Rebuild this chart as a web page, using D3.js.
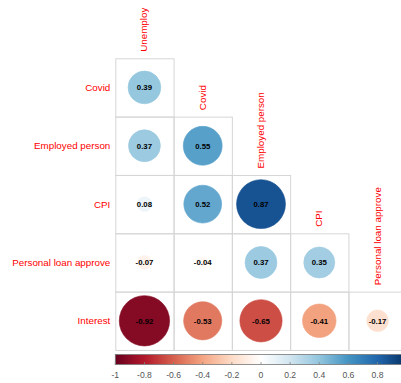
<!DOCTYPE html>
<html>
<head>
<meta charset="utf-8">
<script src="https://cdn.jsdelivr.net/npm/d3@7"></script>
<style>
  html, body { margin: 0; padding: 0; background: #fff; }
  svg { display: block; font-family: "Liberation Sans", Arial, sans-serif; }
</style>
</head>
<body>
<svg id="chart" width="401" height="383"></svg>
<script>
// Variables shown on each axis of the lower-triangle correlation matrix
const rowLabels = ["Covid", "Employed person", "CPI", "Personal loan approve", "Interest"];
const colLabels = ["Unemploy", "Covid", "Employed person", "CPI", "Personal loan approve"];

// Correlation coefficients, one row per row label (lower triangle)
const corrRows = [
  [0.39],
  [0.37, 0.55],
  [0.08, 0.52, 0.87],
  [-0.07, -0.04, 0.37, 0.35],
  [-0.92, -0.53, -0.65, -0.41, -0.17]
];

// Colour legend ticks
const legendTicks = [-1, -0.8, -0.6, -0.4, -0.2, 0, 0.2, 0.4, 0.6, 0.8];

// Diverging red–blue palette
const paletteStops = ["#67001F", "#B2182B", "#D6604D", "#F4A582", "#FDDBC7",
                      "#FFFFFF", "#D1E5F0", "#92C5DE", "#4393C3", "#2166AC", "#053061"];

const svg = d3.select("#chart");
const gridLeft = 115.3, gridRight = 406.7, gridTop = 58.3, gridBottom = 350;

const x = d3.scaleBand().domain(colLabels).range([gridLeft, gridRight]);
const y = d3.scaleBand().domain(rowLabels).range([gridTop, gridBottom]);
const color = d3.scaleLinear()
  .domain(d3.range(paletteStops.length).map(i => -1 + 2 * i / (paletteStops.length - 1)))
  .range(paletteStops)
  .interpolate(d3.interpolateRgb);
const cell = x.bandwidth();
const radius = v => Math.sqrt(Math.abs(v)) * cell * 0.45;

const cells = [];
corrRows.forEach((row, i) => row.forEach((v, j) => {
  cells.push({ row: rowLabels[i], col: colLabels[j], value: v });
}));

// Cell grid
svg.append("g").selectAll("rect").data(cells).join("rect")
  .attr("x", d => x(d.col) + 0.5)
  .attr("y", d => y(d.row) + 0.5)
  .attr("width", cell)
  .attr("height", cell)
  .attr("fill", "none")
  .attr("stroke", "#d6d6d6")
  .attr("stroke-width", 1);

// Circles: area grows with |r|, colour follows the palette
svg.append("g").selectAll("circle").data(cells).join("circle")
  .attr("cx", d => x(d.col) + cell / 2)
  .attr("cy", d => y(d.row) + cell / 2)
  .attr("r", d => radius(d.value))
  .attr("fill", d => color(d.value))
  .attr("stroke", d => color(d.value))
  .attr("stroke-width", 0.6);

// Coefficient labels (plain hyphen for negatives)
svg.append("g").selectAll("text").data(cells).join("text")
  .attr("x", d => x(d.col) + cell / 2)
  .attr("y", d => y(d.row) + cell / 2)
  .attr("dy", "0.35em")
  .attr("text-anchor", "middle")
  .attr("font-size", "7.8px")
  .attr("font-weight", "bold")
  .attr("fill", "#000")
  .text(d => d.value.toFixed(2));

// Row labels
svg.append("g").selectAll("text").data(rowLabels).join("text")
  .attr("x", gridLeft - 5)
  .attr("y", d => y(d) + cell / 2)
  .attr("dy", "0.35em")
  .attr("text-anchor", "end")
  .attr("font-size", "9.8px")
  .attr("fill", "#FF0000")
  .text(d => d);

// Column labels, rotated, sitting above each column's first cell
svg.append("g").selectAll("text").data(colLabels).join("text")
  .attr("transform", (d, j) => `translate(${x(d) + cell / 2 + 3},${y(rowLabels[j]) - 6.5}) rotate(-90)`)
  .attr("text-anchor", "start")
  .attr("font-size", "9.8px")
  .attr("fill", "#FF0000")
  .text(d => d);

// Colour legend
const lx = d3.scaleLinear().domain([-1, 1]).range([gridLeft, gridRight]);
const barTop = 354.5, barH = 10;
const defs = svg.append("defs");
const grad = defs.append("linearGradient").attr("id", "corrGrad")
  .attr("x1", "0%").attr("x2", "100%").attr("y1", "0%").attr("y2", "0%");
grad.selectAll("stop").data(d3.range(0, 101)).join("stop")
  .attr("offset", d => d + "%")
  .attr("stop-color", d => color(-1 + 2 * d / 100));

svg.append("rect")
  .attr("x", gridLeft).attr("y", barTop)
  .attr("width", gridRight - gridLeft).attr("height", barH)
  .attr("fill", "url(#corrGrad)")
  .attr("stroke", "#777").attr("stroke-width", 0.8);

svg.append("g").selectAll("line").data(legendTicks).join("line")
  .attr("x1", d => lx(d)).attr("x2", d => lx(d))
  .attr("y1", barTop + barH - 2.5).attr("y2", barTop + barH)
  .attr("stroke", "#888").attr("stroke-width", 0.8);

svg.append("g").selectAll("text").data(legendTicks).join("text")
  .attr("x", d => lx(d))
  .attr("y", 378)
  .attr("text-anchor", "middle")
  .attr("font-size", "8.6px")
  .attr("fill", "#555")
  .text(d => String(d));
</script>
</body>
</html>
